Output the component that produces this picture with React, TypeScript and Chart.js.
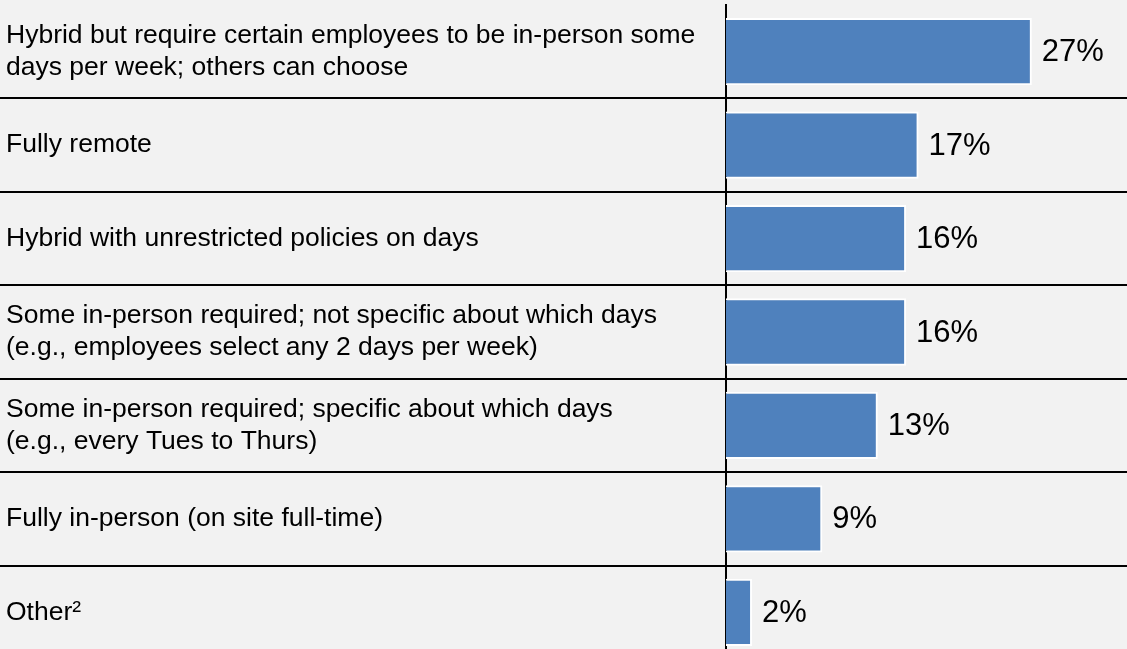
import React, { useEffect, useRef } from "react";
import { Chart, registerables } from "chart.js";

Chart.register(...registerables);

const categories: string[][] = [
  ["Hybrid but require certain employees to be in-person some", "days per week; others can choose"],
  ["Fully remote"],
  ["Hybrid with unrestricted policies on days"],
  ["Some in-person required; not specific about which days", "(e.g., employees select any 2 days per week)"],
  ["Some in-person required; specific about which days", "(e.g., every Tues to Thurs)"],
  ["Fully in-person (on site full-time)"],
  ["Other²"],
];
const values: number[] = [27, 17, 15.9, 15.9, 13.4, 8.5, 2.3];
const valueLabels: string[] = ["27%", "17%", "16%", "16%", "13%", "9%", "2%"];

const FONT = '"Liberation Sans", Arial, Helvetica, sans-serif';

const valueLabelPlugin = {
  id: "valueLabels",
  afterDatasetsDraw(chart: any) {
    const ctx = chart.ctx;
    const meta = chart.getDatasetMeta(0);
    ctx.save();
    ctx.font = `31px ${FONT}`;
    ctx.fillStyle = "#000";
    ctx.textAlign = "left";
    ctx.textBaseline = "middle";
    meta.data.forEach((el: any, i: number) => {
      ctx.fillText(valueLabels[i], el.x + 10, el.y + 1);
    });
    ctx.restore();
  },
};

const bgPlugin = {
  id: "bg",
  beforeDraw(chart: any) {
    const ctx = chart.ctx;
    ctx.save();
    ctx.fillStyle = "#f2f2f2";
    ctx.fillRect(0, 0, chart.width, chart.height);
    ctx.restore();
  },
};

export default function App() {
  const ref = useRef<HTMLCanvasElement>(null);
  useEffect(() => {
    if (!ref.current) return;
    const lineColor = (c: any) => (c.index === 0 ? "rgba(0,0,0,0)" : "#000");
    const chart = new Chart(ref.current, {
      type: "bar",
      data: {
        labels: categories,
        datasets: [
          {
            data: values,
            backgroundColor: "#4f81bd",
            borderColor: "#ffffff",
            borderWidth: 2,
            categoryPercentage: 1,
            barPercentage: 0.72,
          },
        ],
      },
      options: {
        indexAxis: "y",
        responsive: false,
        animation: false,
        devicePixelRatio: 1,
        layout: { padding: { left: 6, right: 0, top: 5, bottom: 1 } },
        plugins: { legend: { display: false }, tooltip: { enabled: false } },
        scales: {
          x: {
            display: false,
            min: 0,
            max: 35.4,
          },
          y: {
            afterFit: (scale: any) => {
              scale.width = 720;
              scale.paddingTop = 0;
              scale.paddingBottom = 0;
            },
            ticks: {
              crossAlign: "far",
              color: "#000",
              font: { family: FONT, size: 26.5, lineHeight: 1.22 },
            },
            grid: {
              offset: true,
              drawOnChartArea: true,
              drawTicks: true,
              tickLength: 732,
              color: lineColor,
              tickColor: lineColor,
              lineWidth: 2,
              tickWidth: 2,
            },
            border: { display: true, color: "#000", width: 2 },
          },
        },
      },
      plugins: [bgPlugin, valueLabelPlugin],
    });
    return () => chart.destroy();
  }, []);
  return (
    <div
      style={{
        position: "absolute",
        left: 0,
        top: 0,
        width: 1127,
        height: 649,
        overflow: "hidden",
        background: "#f2f2f2",
      }}
    >
      <canvas ref={ref} width={1127} height={660} style={{ display: "block" }} />
    </div>
  );
}
